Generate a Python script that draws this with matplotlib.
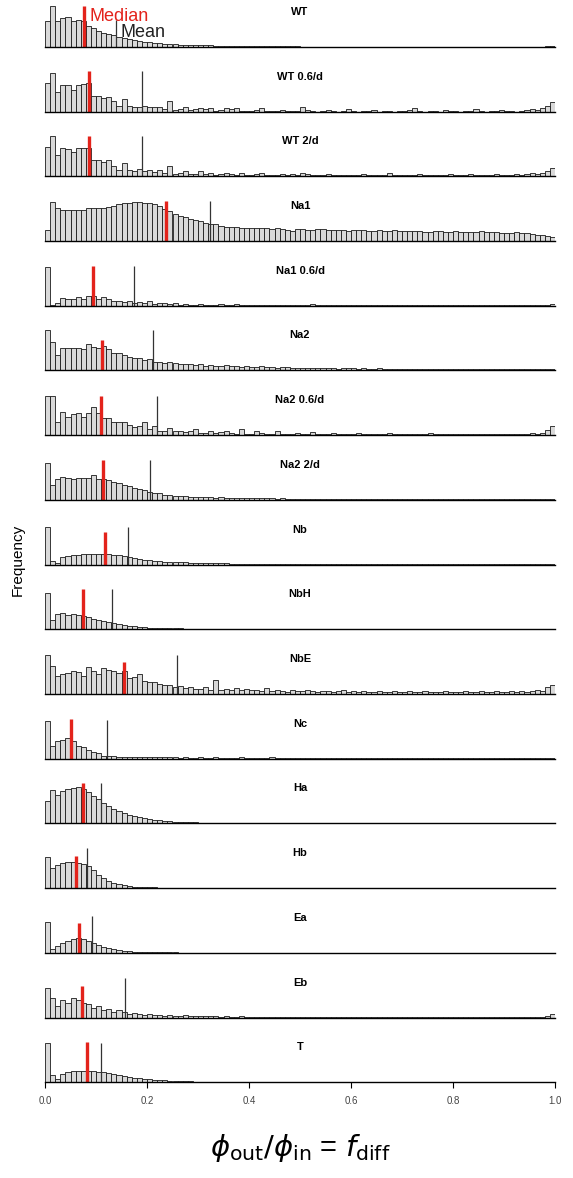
import numpy as np
import matplotlib
matplotlib.use("Agg")
import matplotlib.pyplot as plt

WT = [26, 41, 26, 29, 30, 26, 27, 26, 21, 19,
      16, 14, 13, 12, 10, 9, 8, 7, 6, 5.5,
      5, 4.5, 4, 3.5, 3, 3, 2.5, 2.5, 2, 2,
      2, 1.8, 1.6, 1.5, 1.4, 1.3, 1.2, 1.1, 1, 1,
      0.9, 0.9, 0.8, 0.8, 0.7, 0.7, 0.7, 0.6, 0.6, 0.6,
      0.5, 0.5, 0.5, 0.5, 0.5, 0.4, 0.4, 0.4, 0.4, 0.4,
      0.4, 0.4, 0.4, 0.3, 0.3, 0.3, 0.3, 0.3, 0.3, 0.3,
      0.3, 0.3, 0.3, 0.3, 0.3, 0.3, 0.3, 0.3, 0.3, 0.3,
      0.3, 0.3, 0.3, 0.3, 0.3, 0.3, 0.3, 0.3, 0.3, 0.3,
      0.3, 0.3, 0.3, 0.3, 0.3, 0.4, 0.4, 0.5, 0.6, 0.8]

WT_06 = [29, 39, 20, 27, 27, 22, 27, 28, 29, 16,
         16, 14, 15, 11, 6, 13, 6, 5, 5, 6,
         5, 5, 5, 3, 11, 2, 3, 5, 2, 3,
         4, 3, 4, 1, 2, 4, 3, 4, 1, 1,
         1, 2, 4, 1, 1, 1, 2, 1, 1, 1,
         5, 2, 1, 0, 1, 2, 1, 0, 1, 3,
         1, 0, 1, 1, 2, 0, 1, 1, 0, 1,
         1, 2, 4, 1, 0, 1, 1, 0, 2, 1,
         1, 0, 1, 1, 3, 1, 0, 1, 1, 2,
         1, 1, 0, 1, 2, 3, 2, 4, 6, 10]

WT_2 = [29, 40, 21, 28, 27, 24, 28, 28, 28, 16,
        16, 14, 16, 10, 6, 13, 6, 5, 7, 5,
        6, 4, 6, 3, 10, 2, 3, 5, 2, 2,
        5, 2, 3, 1, 2, 3, 2, 1, 3, 1,
        1, 2, 3, 1, 1, 1, 2, 1, 2, 1,
        3, 2, 1, 1, 1, 2, 1, 1, 1, 1,
        1, 1, 2, 1, 1, 1, 1, 3, 1, 1,
        1, 1, 1, 2, 1, 1, 1, 1, 1, 2,
        1, 1, 1, 2, 1, 1, 1, 1, 2, 1,
        1, 1, 2, 1, 2, 3, 2, 3, 5, 8]

NA1 = [11, 39, 33, 31, 31, 31, 31, 31, 33, 33,
       33, 33, 34, 35, 37, 38, 38, 39, 39, 38,
       38, 37, 35, 32, 30, 27, 25, 24, 22, 21,
       20, 18, 17, 17, 15, 14, 14, 14, 13, 13,
       13, 13, 13, 13, 12, 13, 12, 11, 10, 12,
       12, 11, 11, 12, 12, 11, 11, 11, 11, 10,
       11, 11, 11, 10, 10, 11, 10, 10, 11, 10,
       10, 10, 10, 10, 9, 9, 10, 10, 9, 9,
       10, 9, 9, 9, 9, 10, 9, 9, 9, 8,
       8, 8, 9, 8, 8, 7, 6, 6, 5, 4]

NA1_06 = [39, 1, 3, 8, 7, 7, 9, 7, 10, 10,
          7, 9, 7, 5, 5, 4, 5, 3, 4, 3,
          5, 2, 3, 3, 2, 3, 1, 2, 1, 1,
          2, 1, 1, 1, 2, 1, 1, 2, 1, 1,
          1, 1, 1, 1, 1, 1, 1, 1, 1, 1,
          1, 1, 2, 1, 1, 1, 1, 1, 1, 1,
          1, 1, 1, 1, 1, 1, 1, 1, 1, 1,
          1, 1, 1, 1, 1, 1, 1, 1, 1, 1,
          1, 1, 1, 1, 1, 1, 1, 1, 1, 1,
          1, 1, 1, 1, 1, 1, 1, 1, 1, 2]

NA2 = [40, 28, 15, 22, 22, 22, 22, 21, 26, 23,
       22, 24, 21, 17, 17, 15, 13, 12, 12, 10,
       11, 8, 8, 7, 8, 7, 6, 6, 6, 5,
       6, 4, 5, 4, 4, 5, 4, 4, 3, 4,
       3, 3, 4, 3, 3, 2, 3, 3, 2, 2,
       2, 2, 2, 2, 2, 2, 2, 1, 2, 2,
       2, 1, 2, 1, 1, 2, 1, 1, 1, 1,
       1, 1, 1, 1, 1, 1, 1, 1, 1, 1,
       1, 1, 1, 1, 1, 1, 1, 1, 1, 1,
       1, 1, 1, 1, 1, 1, 1, 1, 1, 1]

NA2_06 = [39, 39, 13, 23, 18, 21, 22, 18, 22, 28,
          22, 17, 17, 13, 13, 13, 10, 8, 9, 13,
          6, 9, 4, 4, 7, 4, 4, 3, 4, 6,
          2, 2, 4, 2, 3, 4, 2, 1, 6, 1,
          1, 4, 2, 1, 1, 4, 1, 1, 1, 2,
          1, 1, 3, 1, 1, 1, 2, 1, 1, 1,
          1, 2, 1, 1, 1, 1, 1, 2, 1, 1,
          1, 1, 1, 1, 1, 2, 1, 1, 1, 1,
          1, 1, 1, 1, 1, 1, 1, 1, 1, 1,
          1, 1, 1, 1, 1, 2, 1, 2, 5, 9]

NA2_2 = [37, 15, 21, 23, 22, 21, 22, 22, 22, 25,
         21, 21, 20, 18, 17, 15, 14, 12, 11, 10,
         8, 7, 7, 5, 5, 4, 4, 4, 3, 3,
         3, 3, 3, 2, 3, 2, 2, 2, 2, 2,
         2, 2, 2, 2, 2, 1, 2, 1, 1, 1,
         1, 1, 1, 1, 1, 1, 1, 1, 1, 1,
         1, 1, 1, 1, 1, 1, 1, 1, 1, 1,
         1, 1, 1, 1, 1, 1, 1, 1, 1, 1,
         1, 1, 1, 1, 1, 1, 1, 1, 1, 1,
         1, 1, 1, 1, 1, 1, 1, 1, 1, 1]

NB = [38, 4, 2, 8, 9, 10, 10, 11, 11, 11,
      11, 11, 11, 10, 10, 9, 8, 7, 6, 5,
      5, 4, 4, 3, 3, 3, 2.5, 2.5, 2, 2,
      2, 1.5, 1.5, 1.5, 1.2, 1.2, 1, 1, 1, 1,
      0.8, 0.8, 0.8, 0.7, 0.7, 0.6, 0.6, 0.5, 0.5, 0.5,
      0.4, 0.4, 0.4, 0.4, 0.4, 0.4, 0.4, 0.4, 0.4, 0.4,
      0.3, 0.3, 0.3, 0.3, 0.3, 0.3, 0.3, 0.3, 0.3, 0.3,
      0.3, 0.3, 0.3, 0.3, 0.3, 0.3, 0.3, 0.3, 0.3, 0.3,
      0.3, 0.3, 0.3, 0.3, 0.3, 0.3, 0.3, 0.3, 0.3, 0.3,
      0.3, 0.3, 0.3, 0.3, 0.3, 0.3, 0.3, 0.3, 0.3, 0.3]

NBH = [36, 9, 15, 16, 14, 15, 14, 13, 12, 10,
       9, 8, 7, 6, 5, 4, 3.5, 3, 2.5, 2,
       1.8, 1.6, 1.4, 1.2, 1, 1, 0.9, 0.8, 0.8, 0.7,
       0.7, 0.6, 0.6, 0.5, 0.5, 0.5, 0.5, 0.4, 0.4, 0.4,
       0.4, 0.4, 0.4, 0.4, 0.4, 0.3, 0.3, 0.3, 0.3, 0.3,
       0.3, 0.3, 0.3, 0.3, 0.3, 0.3, 0.3, 0.3, 0.3, 0.3,
       0.3, 0.3, 0.3, 0.3, 0.3, 0.3, 0.3, 0.3, 0.3, 0.3,
       0.3, 0.3, 0.3, 0.3, 0.3, 0.3, 0.3, 0.3, 0.3, 0.3,
       0.3, 0.3, 0.3, 0.3, 0.3, 0.3, 0.3, 0.3, 0.3, 0.3,
       0.3, 0.3, 0.3, 0.3, 0.3, 0.3, 0.3, 0.3, 0.3, 0.3]

NBE = [39, 28, 18, 20, 21, 23, 22, 18, 27, 23,
       20, 26, 24, 23, 21, 23, 16, 17, 20, 13,
       12, 12, 10, 9, 9, 7, 8, 6, 7, 5,
       5, 7, 4, 14, 4, 5, 4, 6, 4, 5,
       4, 4, 3, 6, 3, 4, 3, 2, 4, 3,
       3, 4, 3, 2, 3, 3, 2, 3, 4, 2,
       3, 2, 3, 2, 2, 3, 2, 2, 3, 2,
       2, 3, 2, 2, 3, 2, 2, 2, 3, 2,
       2, 2, 3, 2, 2, 3, 2, 2, 3, 2,
       2, 3, 2, 3, 2, 3, 4, 3, 7, 9]

NC = [38, 13, 18, 19, 21, 18, 13, 12, 9, 7,
      6, 3, 3, 3, 2, 2, 2, 2, 2, 2,
      2, 1.5, 1.5, 1.5, 2, 1.5, 1, 1.5, 1, 1,
      1.5, 1, 1, 1.5, 1, 1, 1, 1, 1.5, 1,
      1, 1, 1, 1, 1.5, 1, 1, 1, 1, 1,
      1, 0.8, 0.8, 1, 0.8, 0.8, 1, 0.8, 0.8, 0.8,
      0.7, 0.7, 0.7, 0.7, 0.7, 0.7, 0.7, 0.7, 0.7, 0.7,
      0.6, 0.6, 0.6, 0.6, 0.6, 0.6, 0.6, 0.6, 0.6, 0.6,
      0.6, 0.6, 0.6, 0.6, 0.6, 0.6, 0.6, 0.6, 0.6, 0.6,
      0.6, 0.6, 0.6, 0.6, 0.6, 0.6, 0.6, 0.6, 0.7, 0.8]

HA = [22, 33, 28, 32, 34, 35, 36, 34, 31, 27,
      24, 20, 17, 14, 12, 10, 8, 7, 6, 5,
      4, 3.5, 3, 2.5, 2, 1.8, 1.5, 1.3, 1.1, 1,
      0.9, 0.8, 0.7, 0.7, 0.6, 0.6, 0.5, 0.5, 0.5, 0.4,
      0.4, 0.4, 0.4, 0.4, 0.3, 0.3, 0.3, 0.3, 0.3, 0.3,
      0.3, 0.3, 0.3, 0.3, 0.3, 0.3, 0.3, 0.3, 0.3, 0.3,
      0.3, 0.3, 0.3, 0.3, 0.3, 0.3, 0.3, 0.3, 0.3, 0.3,
      0.3, 0.3, 0.3, 0.3, 0.3, 0.3, 0.3, 0.3, 0.3, 0.3,
      0.3, 0.3, 0.3, 0.3, 0.3, 0.3, 0.3, 0.3, 0.3, 0.3,
      0.3, 0.3, 0.3, 0.3, 0.3, 0.3, 0.3, 0.3, 0.3, 0.3]

HB = [31, 20, 23, 25, 26, 26, 25, 24, 22, 18,
      13, 10, 7, 5, 4, 3, 2.2, 1.6, 1.2, 1,
      0.8, 0.7, 0.6, 0.5, 0.5, 0.4, 0.4, 0.3, 0.3, 0.3,
      0.3, 0.3, 0.3, 0.3, 0.3, 0.3, 0.3, 0.3, 0.3, 0.3,
      0.3, 0.3, 0.3, 0.3, 0.3, 0.3, 0.3, 0.3, 0.3, 0.3,
      0.3, 0.3, 0.3, 0.3, 0.3, 0.3, 0.3, 0.3, 0.3, 0.3,
      0.3, 0.3, 0.3, 0.3, 0.3, 0.3, 0.3, 0.3, 0.3, 0.3,
      0.3, 0.3, 0.3, 0.3, 0.3, 0.3, 0.3, 0.3, 0.3, 0.3,
      0.3, 0.3, 0.3, 0.3, 0.3, 0.3, 0.3, 0.3, 0.3, 0.3,
      0.3, 0.3, 0.3, 0.3, 0.3, 0.3, 0.3, 0.3, 0.3, 0.3]

EA = [31, 4, 7, 10, 12, 14, 15, 14, 12, 10,
      8, 6, 4.5, 3.5, 2.5, 2, 1.5, 1.2, 1, 0.8,
      0.7, 0.6, 0.5, 0.5, 0.4, 0.4, 0.3, 0.3, 0.3, 0.3,
      0.3, 0.3, 0.3, 0.3, 0.3, 0.3, 0.3, 0.3, 0.3, 0.3,
      0.3, 0.3, 0.3, 0.3, 0.3, 0.3, 0.3, 0.3, 0.3, 0.3,
      0.3, 0.3, 0.3, 0.3, 0.3, 0.3, 0.3, 0.3, 0.3, 0.3,
      0.3, 0.3, 0.3, 0.3, 0.3, 0.3, 0.3, 0.3, 0.3, 0.3,
      0.3, 0.3, 0.3, 0.3, 0.3, 0.3, 0.3, 0.3, 0.3, 0.3,
      0.3, 0.3, 0.3, 0.3, 0.3, 0.3, 0.3, 0.3, 0.3, 0.3,
      0.3, 0.3, 0.3, 0.3, 0.3, 0.3, 0.3, 0.3, 0.3, 0.3]

EB = [30, 20, 12, 18, 15, 20, 18, 15, 14, 10,
      12, 8, 9, 6, 8, 6, 4, 5, 4, 3,
      4, 3, 3, 2, 3, 2, 2, 3, 2, 2,
      2, 1.5, 2, 1.5, 1, 1.5, 1, 1, 1.5, 1,
      1, 1, 1, 1, 1, 1, 1, 1, 1, 1,
      1, 1, 1, 1, 1, 1, 1, 1, 1, 1,
      1, 1, 1, 1, 1, 1, 1, 1, 1, 1,
      1, 1, 1, 1, 1, 1, 1, 1, 1, 1,
      1, 1, 1, 1, 1, 1, 1, 1, 1, 1,
      1, 1, 1, 1, 1, 1, 1, 1, 2, 4]

T = [39, 7, 3, 8, 10, 11, 11, 11, 11, 11,
     10, 10, 9, 8, 7, 6, 5, 4, 4, 3,
     3, 2, 2, 1.8, 1.5, 1.3, 1.1, 1, 0.8, 0.7,
     0.6, 0.5, 0.5, 0.4, 0.4, 0.4, 0.3, 0.3, 0.3, 0.3,
     0.3, 0.3, 0.3, 0.3, 0.3, 0.3, 0.3, 0.3, 0.3, 0.3,
     0.3, 0.3, 0.3, 0.3, 0.3, 0.3, 0.3, 0.3, 0.3, 0.3,
     0.3, 0.3, 0.3, 0.3, 0.3, 0.3, 0.3, 0.3, 0.3, 0.3,
     0.3, 0.3, 0.3, 0.3, 0.3, 0.3, 0.3, 0.3, 0.3, 0.3,
     0.3, 0.3, 0.3, 0.3, 0.3, 0.3, 0.3, 0.3, 0.3, 0.3,
     0.3, 0.3, 0.3, 0.3, 0.3, 0.3, 0.3, 0.3, 0.3, 0.3]

LABELS = ["WT", "WT 0.6/d", "WT 2/d", "Na1", "Na1 0.6/d", "Na2", "Na2 0.6/d",
          "Na2 2/d", "Nb", "NbH", "NbE", "Nc", "Ha", "Hb", "Ea", "Eb", "T"]
MEDIANS = [0.076, 0.087, 0.087, 0.237, 0.095, 0.111, 0.110, 0.114, 0.118,
           0.074, 0.154, 0.051, 0.075, 0.061, 0.067, 0.073, 0.082]
MEANS = [0.139, 0.191, 0.190, 0.324, 0.175, 0.212, 0.220, 0.206, 0.163,
         0.131, 0.259, 0.121, 0.110, 0.082, 0.092, 0.157, 0.109]
XTICKS = [0.0, 0.2, 0.4, 0.6, 0.8, 1.0]

PANELS = [WT, WT_06, WT_2, NA1, NA1_06, NA2, NA2_06, NA2_2, NB, NBH,
          NBE, NC, HA, HB, EA, EB, T]

# Linienhoehen (Stil), in denselben Pixel-Einheiten
MED_TOP = [41, 41, 40, 40, 40, 30, 39, 40, 33, 40, 32, 40, 40, 32, 30, 32, 40]
MEAN_TOP = [27, 41, 40, 40, 40, 40, 39, 40, 38, 40, 39, 39, 40, 40, 37, 40, 39]

# === Layout ===
W, H = 573, 1178
X0, X1 = 45, 555
BASE0, STEP = 47, 64.7
AX_H = 44

plt.rcParams["font.family"] = ["Liberation Sans", "DejaVu Sans"]

fig = plt.figure(figsize=(W / 100, H / 100), dpi=100)
left_edges = np.arange(100) / 100.0

for i, (label, counts) in enumerate(zip(LABELS, PANELS)):
    base = BASE0 + i * STEP
    ax = fig.add_axes([X0 / W, 1 - base / H, (X1 - X0) / W, AX_H / H])
    ax.bar(left_edges, counts, width=0.01, align="edge", color="#d9d9d9",
           edgecolor="#1a1a1a", linewidth=0.6)
    ax.vlines(MEANS[i], 0, MEAN_TOP[i], color="#333333", linewidth=0.9)
    ax.vlines(MEDIANS[i], 0, MED_TOP[i], color="#e3231b", linewidth=2.4)
    ax.text(0.5, 35, label, ha="center", va="center", fontsize=8,
            fontweight="bold")
    ax.set_xlim(0, 1)
    ax.set_ylim(0, AX_H)
    for s in ["top", "left", "right"]:
        ax.spines[s].set_visible(False)
    ax.spines["bottom"].set_linewidth(1.0)
    ax.set_yticks([])
    if i == len(LABELS) - 1:
        ax.set_xticks(XTICKS)
        ax.set_xticklabels([f"{t:.1f}" for t in XTICKS])
        ax.tick_params(axis="x", length=4, width=0.8, labelsize=7,
                       labelcolor="#444444", pad=6)
    else:
        ax.set_xticks([])
    if i == 0:
        ax.text(MEDIANS[i] + 0.012, 26, "Median", color="#e3231b",
                fontsize=13, va="baseline")
        ax.text(MEANS[i] + 0.009, 10, "Mean", color="#222222",
                fontsize=13, va="baseline")

fig.text(18 / W, 1 - 560 / H, "Frequency", rotation=90, ha="center",
         va="center", fontsize=11)
fig.text(300 / W, 1 - 1148 / H,
         r"$\phi_{\mathrm{out}}/\phi_{\mathrm{in}}$ = $f_{\mathrm{diff}}$",
         ha="center", va="center", fontsize=21)

fig.savefig("out.png", dpi=100)
